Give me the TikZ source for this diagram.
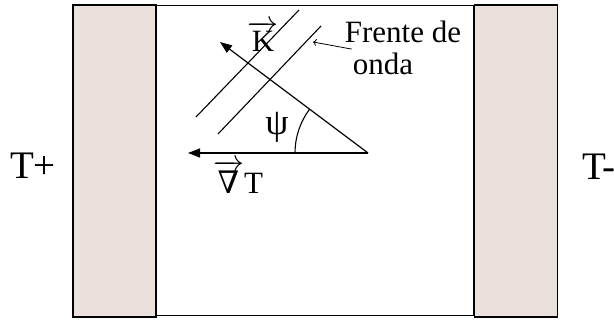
\documentclass[tikz,border=0pt]{standalone}
\usepackage{fix-cm}
\usepackage{fontspec}
\setmainfont{Liberation Serif}
\newfontfamily\symfont{DejaVu Serif}
\definecolor{platefill}{HTML}{EAE1DC}
\usetikzlibrary{arrows.meta, positioning, calc}
\newcommand\vecsym[1]{\ensuremath{\overrightarrow{\mbox{#1}}}}

\begin{document}
\begin{tikzpicture}[x=1pt, y=-1pt, every node/.style={font=\fontsize{31}{36}\selectfont, inner sep=0pt}]
        \tikzset{
          plate/.style={draw=black, line width=1.3pt, fill=platefill,
                 minimum width=83pt, minimum height=312pt},
          vecline/.style={-{Triangle[length=12pt, width=9pt]}, line width=1.2pt},
          front/.style={line width=1.1pt},
          bigtemp/.style={font=\fontsize{39}{44}\selectfont}
        }
        \useasboundingbox (0,0) rectangle (614,320);
        \node[plate] (hot)  at (114.5,161) {};
        \node[plate] (cold) at (516,161) {};
        \draw[line width=1.3pt]
          ([yshift=-1pt]hot.north east) rectangle ([yshift=2pt]cold.south west);
        \node[bigtemp] (tplus) at (33,166) {T+};
        \node[bigtemp, anchor=west] (tminus) at (582,167) {T-};
        \coordinate (o) at (368,153);
        \coordinate (ktip) at (220,42);
        \coordinate (gtip) at (188,153);
        \draw[front] (196,117) -- (299,10);
        \draw[front] (218,134) -- (321,26);
        \draw[vecline] (o) -- (ktip);
        \draw[vecline] (o) -- (gtip);
        \draw[front] (o) ++(-73,0) arc[start angle=180, end angle=217, radius=73];
        \node[font=\fontsize{37}{40}\selectfont] (psi) at (277,127) {ψ};
        \node (klabel) at (263,36) {\vecsym{K}};
        \node (gradlabel) at (238,177)
          {\vecsym{\symfont\fontsize{31}{34}\selectfont ∇}T};
        \node (frente) at (403,32) {Frente de};
        \node (onda) at (383,64) {onda};
        \coordinate (fronttip) at (313,42);
        \draw[-{To}, line width=0.8pt]
          ([shift={(7,6)}]frente.south west) -- (fronttip);
      \end{tikzpicture}
\end{document}
